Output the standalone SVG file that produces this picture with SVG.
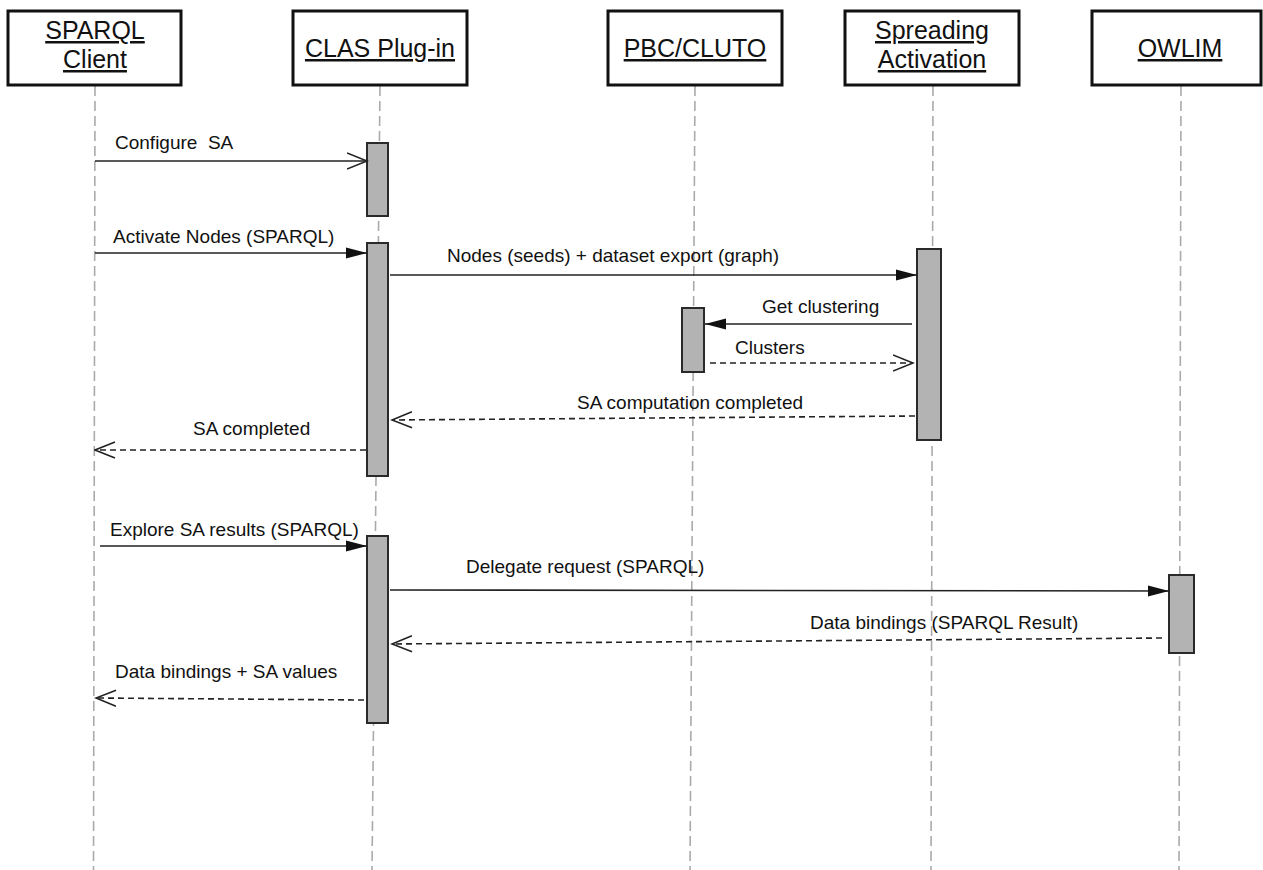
<svg xmlns="http://www.w3.org/2000/svg" width="1263" height="870" viewBox="0 0 1263 870">
<style>
.box{fill:#fff;stroke:#111;stroke-width:3}
.hd{font-family:"Liberation Sans",Arial,sans-serif;font-size:25px;fill:#111;text-anchor:middle;text-decoration:underline}
.life{stroke:#aaa;stroke-width:1.6;stroke-dasharray:10 5;fill:none}
.bar{fill:#b3b3b3;stroke:#2a2a2a;stroke-width:2}
.msg{stroke:#222;stroke-width:1.6;fill:none}
.ret{stroke:#222;stroke-width:1.6;fill:none;stroke-dasharray:6 4}
.lbl{font-family:"Liberation Sans",Arial,sans-serif;font-size:19px;fill:#111}
</style>
<defs>
<marker id="filled" markerUnits="userSpaceOnUse" markerWidth="22" markerHeight="12" refX="21" refY="6" orient="auto">
<path d="M0,0.5 L21,6 L0,11.5 z" fill="#111" stroke="none"/>
</marker>
<marker id="open" markerUnits="userSpaceOnUse" markerWidth="22" markerHeight="18" refX="20.5" refY="9" orient="auto">
<path d="M0.5,1 L20.5,9 L0.5,17" fill="none" stroke="#222" stroke-width="1.6" stroke-dasharray="none"/>
</marker>
</defs>
<rect width="1263" height="870" fill="#fff"/>
<g id="lifelines">
<line class="life" x1="95" y1="86" x2="93.5" y2="870"/>
<line class="life" x1="380" y1="86" x2="372" y2="870"/>
<line class="life" x1="695" y1="86" x2="690" y2="870"/>
<line class="life" x1="933" y1="86" x2="931" y2="870"/>
<line class="life" x1="1181" y1="86" x2="1179" y2="870"/>
</g>
<g id="node-sparql-client">
<rect class="box" x="8" y="11" width="173" height="74"/>
<text class="hd" x="95" y="39">SPARQL</text>
<text class="hd" x="95" y="68">Client</text>
</g>
<g id="node-clas-plugin">
<rect class="box" x="293" y="11" width="174" height="74"/>
<text class="hd" x="380" y="57">CLAS Plug-in</text>
</g>
<g id="node-pbc-cluto">
<rect class="box" x="608" y="11" width="174" height="74"/>
<text class="hd" x="695" y="57">PBC/CLUTO</text>
</g>
<g id="node-spreading-activation">
<rect class="box" x="845" y="11" width="174" height="74"/>
<text class="hd" x="932" y="39">Spreading</text>
<text class="hd" x="932" y="68">Activation</text>
</g>
<g id="node-owlim">
<rect class="box" x="1092" y="11" width="169" height="74"/>
<text class="hd" x="1180" y="57">OWLIM</text>
</g>
<g id="activations">
<rect class="bar" x="367" y="143" width="21" height="73"/>
<rect class="bar" x="367" y="243" width="21" height="233"/>
<rect class="bar" x="367" y="536" width="21" height="187"/>
<rect class="bar" x="682" y="308" width="22" height="64"/>
<rect class="bar" x="917" y="249" width="24" height="191"/>
<rect class="bar" x="1169" y="575" width="25" height="78"/>
</g>
<g id="connectors">
<line class="msg" x1="95" y1="161" x2="367" y2="161" marker-end="url(#open)"/>
<line class="msg" x1="95" y1="253" x2="367" y2="253" marker-end="url(#filled)"/>
<line class="msg" x1="390" y1="275" x2="917" y2="275" marker-end="url(#filled)"/>
<line class="msg" x1="912" y1="324" x2="705" y2="324" marker-end="url(#filled)"/>
<line class="ret" x1="710" y1="363" x2="913" y2="363" marker-end="url(#open)"/>
<line class="ret" x1="915" y1="416" x2="392" y2="420" marker-end="url(#open)"/>
<line class="ret" x1="366" y1="450" x2="95" y2="450" marker-end="url(#open)"/>
<line class="msg" x1="100" y1="546" x2="367" y2="546" marker-end="url(#filled)"/>
<line class="msg" x1="390" y1="590" x2="1169" y2="591" marker-end="url(#filled)"/>
<line class="ret" x1="1162" y1="638" x2="392" y2="644" marker-end="url(#open)"/>
<line class="ret" x1="364" y1="700" x2="96" y2="698" marker-end="url(#open)"/>
</g>
<g id="labels">
<text class="lbl" x="115" y="149" xml:space="preserve">Configure  SA</text>
<text class="lbl" x="113" y="243">Activate Nodes (SPARQL)</text>
<text class="lbl" x="447" y="262">Nodes (seeds) + dataset export (graph)</text>
<text class="lbl" x="762" y="313">Get clustering</text>
<text class="lbl" x="735" y="354">Clusters</text>
<text class="lbl" x="577" y="409">SA computation completed</text>
<text class="lbl" x="193" y="435">SA completed</text>
<text class="lbl" x="110" y="536">Explore SA results (SPARQL)</text>
<text class="lbl" x="466" y="573">Delegate request (SPARQL)</text>
<text class="lbl" x="810" y="629">Data bindings (SPARQL Result)</text>
<text class="lbl" x="115" y="678">Data bindings + SA values</text>
</g>
</svg>
